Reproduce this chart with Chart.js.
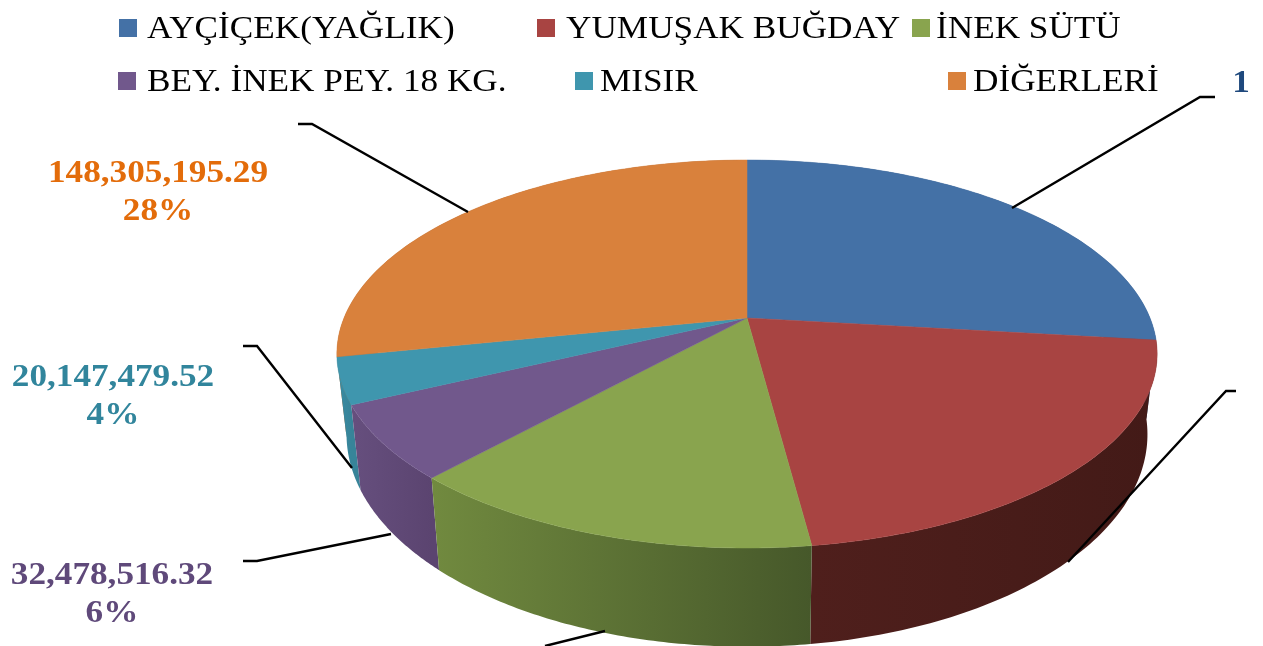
<!DOCTYPE html>
<html lang="tr">
  <head>
    <meta charset="UTF-8" />
    <title>pie3d</title>
    <style>
      html, body { margin: 0; padding: 0; background: #fff; overflow: hidden; }
      canvas { display: block; filter: blur(0.5px); }
    </style>
  </head>
  <body>
    <canvas id="chart" width="1263" height="646"></canvas>
    <script src="https://cdn.jsdelivr.net/npm/chart.js"></script>
    <script>
      const categories = ['AYÇİÇEK(YAĞLIK)', 'YUMUŞAK BUĞDAY', 'İNEK SÜTÜ', 'BEY. İNEK PEY. 18 KG.', 'MISIR', 'DİĞERLERİ'];
      // the first three labels are cut off in the picture, these are estimated from the slice angles
      const values = [141200000, 110800000, 73100000, 32478516.32, 20147479.52, 148305195.29];

      const topColors = ['#4471a6', '#a84442', '#89a44e', '#71588c', '#3f96ae', '#d9813c'];
      const wallLeft = ['#35587f', '#4f1f1c', '#718a3f', '#664f7e', '#3a8ca3', '#a5622d'];
      const wallRight = ['#35587f', '#431a17', '#46582a', '#5b4470', '#378499', '#a5622d'];
      // far walls first
      const wallOrder = [0, 5, 1, 4, 3, 2];

      const legendRows = [
        { box: 119, text: 147, y: 38, idx: 0 },
        { box: 537, text: 566, y: 38, idx: 1 },
        { box: 912, text: 936, y: 38, idx: 2 },
        { box: 118, text: 147, y: 91, idx: 3 },
        { box: 575, text: 600, y: 91, idx: 4 },
        { box: 948, text: 973, y: 91, idx: 5 }
      ];
      const valueLabels = [
        { lines: ['148,305,195.29', '28%'], x: 158, y: [182, 220], color: '#e36c0a' },
        { lines: ['20,147,479.52', '4%'], x: 113, y: [386, 424], color: '#31859c' },
        { lines: ['32,478,516.32', '6%'], x: 112, y: [584, 622], color: '#5f497a' },
        { lines: ['1'], x: 1241, y: [92], color: '#1f497d' }
      ];
      const leaders = [
        [[1215, 97], [1200, 97], [1012, 208]],
        [[1236, 391], [1226, 391], [1068, 562]],
        [[545, 646], [605, 631]],
        [[243, 561], [257, 561], [391, 534]],
        [[243, 346], [257, 346], [352, 468]],
        [[298, 124], [312, 124], [468, 212]]
      ];

      // projection of the disc, top face and lower rim
      const apexX = 747;
      const topFace = { sx: 403, y0: 318, sy: 187.3 };
      const lowFace = { sx: 393.5, y0: 395, sy: 205 };
      const persp = 0.1856;

      function project(face, angle) {
        const th = angle + Math.PI / 2;
        const u = Math.sin(th);
        const v = -Math.cos(th);
        const w = 1 - persp * v;
        return [apexX + (face.sx * u) / w, face.y0 + (face.sy * v) / w];
      }

      class Pie3DArc extends Chart.ArcElement {
        static id = 'pie3dArc';

        rim(face, from, to) {
          const pts = [];
          const n = 80;
          for (let i = 0; i <= n; i++) {
            pts.push(project(face, from + ((to - from) * i) / n));
          }
          return pts;
        }

        drawWall(ctx, colorA, colorB) {
          const { startAngle, endAngle } = this.getProps(['startAngle', 'endAngle']);
          const upper = this.rim(topFace, startAngle, endAngle);
          const lower = this.rim(lowFace, endAngle, startAngle);
          const xs = upper.map((p) => p[0]);
          const g = ctx.createLinearGradient(Math.min(...xs), 0, Math.max(...xs), 0);
          g.addColorStop(0, colorA);
          g.addColorStop(1, colorB);
          ctx.fillStyle = g;
          ctx.beginPath();
          upper.concat(lower).forEach((p, i) => (i ? ctx.lineTo(p[0], p[1]) : ctx.moveTo(p[0], p[1])));
          ctx.closePath();
          ctx.fill();
        }

        draw(ctx) {
          const { startAngle, endAngle } = this.getProps(['startAngle', 'endAngle']);
          ctx.fillStyle = this.options.backgroundColor;
          ctx.strokeStyle = this.options.backgroundColor;
          ctx.lineWidth = 0.5;
          ctx.beginPath();
          ctx.moveTo(apexX, topFace.y0);
          this.rim(topFace, startAngle, endAngle).forEach((p) => ctx.lineTo(p[0], p[1]));
          ctx.closePath();
          ctx.fill();
          ctx.stroke();
        }
      }

      class Pie3DController extends Chart.PieController {
        static id = 'pie3d';
        static defaults = { dataElementType: 'pie3dArc' };

        draw() {
          const ctx = this.chart.ctx;
          const arcs = this.getMeta().data;
          // walls first, the top face covers whatever is behind it
          wallOrder.forEach((i) => arcs[i].drawWall(ctx, wallLeft[i], wallRight[i]));
          super.draw();
        }
      }

      Chart.register(Pie3DArc, Pie3DController);

      function drawText(ctx, text, x, y, font, color, align, stretch) {
        ctx.save();
        ctx.font = font;
        ctx.fillStyle = color;
        ctx.textAlign = align;
        ctx.textBaseline = 'alphabetic';
        ctx.translate(x, y);
        ctx.scale(stretch, 1);
        ctx.fillText(text, 0, 0);
        ctx.restore();
      }

      const annotations = {
        id: 'annotations',
        afterDatasetsDraw(chart) {
          const ctx = chart.ctx;
          ctx.save();
          ctx.strokeStyle = '#000';
          ctx.lineWidth = 2.4;
          for (let line of leaders) {
            ctx.beginPath();
            line.forEach((p, i) => (i ? ctx.lineTo(p[0], p[1]) : ctx.moveTo(p[0], p[1])));
            ctx.stroke();
          }
          ctx.restore();

          for (let row of legendRows) {
            ctx.fillStyle = topColors[row.idx];
            ctx.fillRect(row.box, row.y - 19, 18, 18);
            drawText(ctx, categories[row.idx], row.text, row.y, '32px "Liberation Serif"', '#000', 'left', 1.1);
          }
          for (let label of valueLabels) {
            label.lines.forEach((line, i) => {
              drawText(ctx, line, label.x, label.y[i], 'bold 32px "Liberation Serif"', label.color, 'center', 1.1);
            });
          }
        }
      };

      new Chart(document.getElementById('chart'), {
        type: 'pie3d',
        data: {
          labels: categories,
          datasets: [{ data: values, backgroundColor: topColors }]
        },
        options: {
          responsive: false,
          animation: false,
          events: [],
          plugins: { legend: { display: false }, tooltip: { enabled: false } }
        },
        plugins: [annotations]
      });
    </script>
  </body>
</html>
